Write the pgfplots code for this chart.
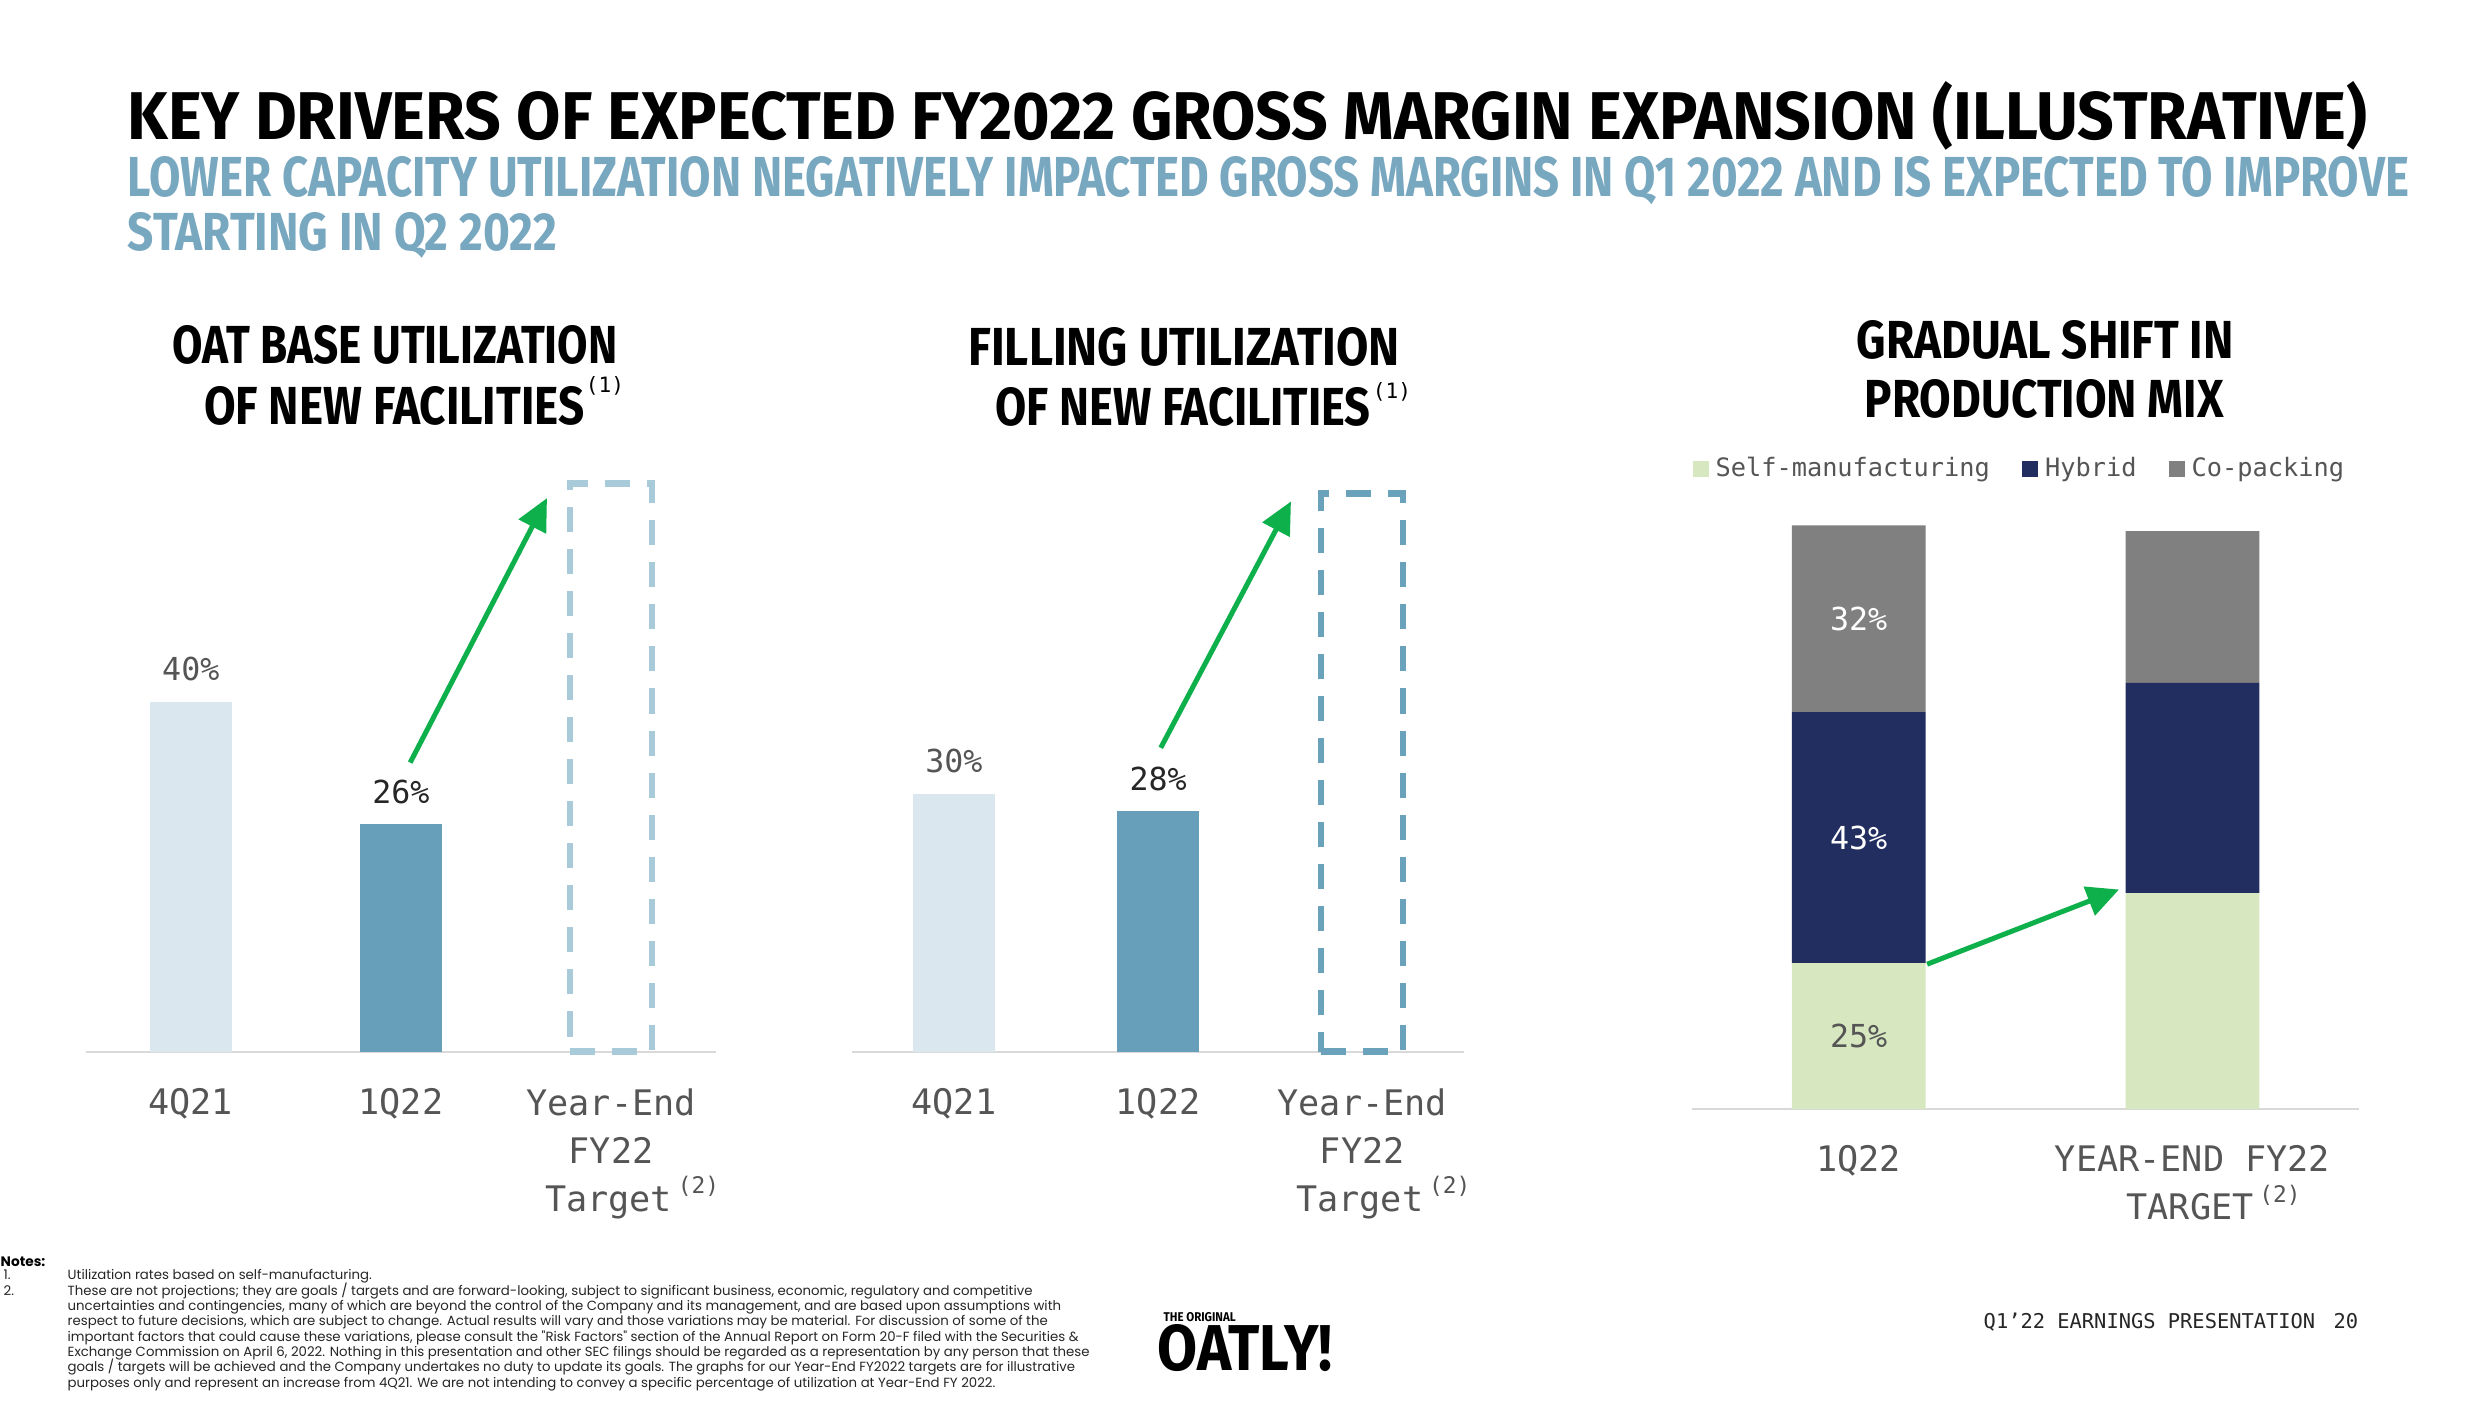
\documentclass[border=0pt]{standalone}
\usepackage{fontspec}
\usepackage{pgfplots}
\pgfplotsset{compat=1.18}
\usetikzlibrary{arrows.meta}
\setmainfont{Poppins}
\newfontfamily\heavy{Fira Sans}
\newfontfamily\mono{DejaVu Sans Mono}
\newfontfamily\notef{Poppins}
\definecolor{subblue}{HTML}{78A7C0}
\definecolor{lightbar}{HTML}{DAE7EE}
\definecolor{darkbar}{HTML}{679FBA}
\definecolor{dashone}{HTML}{A8CAD9}
\definecolor{dashtwo}{HTML}{6AA1BB}
\definecolor{navy}{HTML}{232E60}
\definecolor{cogray}{HTML}{808080}
\definecolor{lgreen}{HTML}{D7E8C1}
\definecolor{arrowgreen}{HTML}{0DB04B}
\definecolor{txtgray}{HTML}{555555}
\definecolor{txtdark}{HTML}{262626}
\definecolor{basegray}{HTML}{D9D9D9}
\newcommand\ttl[4]{\node[anchor=base west, inner sep=0pt] at (#1) {\resizebox{#2}{#3}{\heavy\bfseries #4}};}
\newcommand\supb[1]{\raisebox{0.5em}{\fontsize{6.5}{7}\selectfont(#1)}}
\tikzset{arr/.style={draw=arrowgreen, line width=0.05cm, -{Triangle[length=0.32cm,width=0.3cm]}}}
\pgfplotsset{
  slide/.style={
    anchor=south west, scale only axis, clip=false,
    axis x line=bottom, axis y line=none,
    x axis line style={-, draw=basegray, line width=0.02cm},
    major tick length=0pt, ymin=0,
    /pgf/number format/assume math mode=true,
    xticklabel style={font=\mono\fontsize{10}{13.66}\selectfont, text=txtgray, align=center, anchor=north, inner sep=0pt, yshift=-0.36cm},
    every node near coord/.append style={font=\mono\fontsize{9}{10}\selectfont, inner sep=0pt, yshift=0.2cm},
  },
}
\begin{document}
\begin{tikzpicture}[x=0.01cm,y=0.01cm]
\path[use as bounding box, fill=white] (0,0) rectangle (2492,1400);
% titles
\ttl{127,1260}{22.375cm}{0.58cm}{KEY DRIVERS OF EXPECTED FY2022 GROSS MARGIN EXPANSION (ILLUSTRATIVE)}
\node[anchor=base west, inner sep=0pt, text=subblue] at (127,1203) {\resizebox{22.8cm}{0.40cm}{\heavy\bfseries LOWER CAPACITY UTILIZATION NEGATIVELY IMPACTED GROSS MARGINS IN Q1 2022 AND IS EXPECTED TO IMPROVE}};
\node[anchor=base west, inner sep=0pt, text=subblue] at (127,1149) {\resizebox{4.29cm}{0.38cm}{\heavy\bfseries STARTING IN Q2 2022}};
% chart titles
\ttl{171.6,1036}{4.45cm}{0.38cm}{OAT BASE UTILIZATION}
\ttl{203.4,975.7}{3.80cm}{0.38cm}{OF NEW FACILITIES}
\node[font=\mono\fontsize{6}{7}\selectfont] at (605,1014) {(1)};
\ttl{967.7,1034.5}{4.31cm}{0.38cm}{FILLING UTILIZATION}
\ttl{994.7,974}{3.75cm}{0.38cm}{OF NEW FACILITIES}
\node[font=\mono\fontsize{6}{7}\selectfont] at (1392,1008) {(1)};
\ttl{1856,1041}{3.765cm}{0.38cm}{GRADUAL SHIFT IN}
\ttl{1864,982}{3.59cm}{0.38cm}{PRODUCTION MIX}

% chart 1
\begin{axis}[slide, at={(0.857cm,3.481cm)}, width=6.3cm, height=6.555cm,
  xmin=-0.5, xmax=2.5, ymax=75, xtick={0,1,2},
  xticklabels={4Q21,1Q22,{Year-End\\FY22\\\hspace*{1.2em}Target\,\supb{2}}}]
\addplot[ybar, bar shift=0pt, bar width=0.82cm, fill=lightbar, draw=none,
  nodes near coords={\pgfmathprintnumber{\pgfplotspointmeta}\%},
  every node near coord/.append style={text=txtgray}] coordinates {(0,40)};
\addplot[ybar, bar shift=0pt, bar width=0.82cm, fill=darkbar, draw=none,
  nodes near coords={\pgfmathprintnumber{\pgfplotspointmeta}\%},
  every node near coord/.append style={text=txtdark}] coordinates {(1,26)};
\addplot[ybar, bar shift=0pt, bar width=0.82cm, fill=none, draw=dashone,
  line width=0.065cm, dash pattern=on 0.25cm off 0.17cm] coordinates {(2,65)};
\draw[arr] (axis cs:1.044,33.06) -- (axis cs:1.695,63.3);
\end{axis}

% chart 2
\begin{axis}[slide, at={(8.514cm,3.481cm)}, width=6.12cm, height=6.435cm,
  xmin=-0.5, xmax=2.5, ymax=75, xtick={0,1,2},
  xticklabels={4Q21,1Q22,{Year-End\\FY22\\\hspace*{1.2em}Target\,\supb{2}}}]
\addplot[ybar, bar shift=0pt, bar width=0.82cm, fill=lightbar, draw=none,
  nodes near coords={\pgfmathprintnumber{\pgfplotspointmeta}\%},
  every node near coord/.append style={text=txtgray}] coordinates {(0,30)};
\addplot[ybar, bar shift=0pt, bar width=0.82cm, fill=darkbar, draw=none,
  nodes near coords={\pgfmathprintnumber{\pgfplotspointmeta}\%},
  every node near coord/.append style={text=txtdark}] coordinates {(1,28)};
\addplot[ybar, bar shift=0pt, bar width=0.82cm, fill=none, draw=dashtwo,
  line width=0.065cm, dash pattern=on 0.25cm off 0.17cm] coordinates {(2,65)};
\draw[arr] (axis cs:1.013,35.4) -- (axis cs:1.651,64.1);
\end{axis}

% chart 3
\begin{axis}[slide, at={(16.908cm,2.909cm)}, width=6.672cm, height=6.124cm,
  ybar stacked, bar width=1.335cm,
  xmin=-0.5, xmax=1.5, ymax=105, xtick={0,1},
  xticklabels={1Q22,{YEAR-END FY22\\\hspace*{1.2em}TARGET\,\supb{2}}},
  legend image code/.code={\fill[#1] (0cm,-0.08cm) rectangle (0.16cm,0.08cm);},
  legend style={at={(axis description cs:0,1.0436)}, anchor=west, legend columns=3,
    draw=none, fill=none, inner sep=0pt, font=\mono\fontsize{7.2}{8}\selectfont, text=txtgray,
    /tikz/every even column/.append style={column sep=0.25cm}},
]
\addplot[fill=lgreen, draw=none] coordinates {(0,25) (1,37)};
\addplot[fill=navy, draw=none] coordinates {(0,43) (1,36)};
\addplot[fill=cogray, draw=none] coordinates {(0,32) (1,26)};
\legend{Self-manufacturing,Hybrid,Co-packing}
\coordinate (l32) at (axis cs:0,84);
\coordinate (l43) at (axis cs:0,46.5);
\coordinate (l25) at (axis cs:0,12.5);
\coordinate (a3s) at (axis cs:0.205,24.8);
\coordinate (a3e) at (axis cs:0.78,37.6);
\end{axis}
\node[font=\mono\fontsize{9}{10}\selectfont, text=white] at (l32) {32\%};
\node[font=\mono\fontsize{9}{10}\selectfont, text=white] at (l43) {43\%};
\node[font=\mono\fontsize{9}{10}\selectfont, text=txtgray] at (l25) {25\%};
\draw[arr] (a3s) -- (a3e);

% notes
\node[anchor=base west, inner sep=0pt, font=\notef\bfseries\fontsize{3.9}{4.4}\selectfont] at (0,133.5) {Notes:};
\begin{scope}[every node/.style={anchor=base west, inner sep=0pt, font=\notef\fontsize{3.78}{4.4}\selectfont, text=black!85}]
\node at (3,121) {1.};
\node at (67,121) {Utilization rates based on self-manufacturing.};
\node at (3,105) {2.};
\node at (67,105) {These are not projections; they are goals / targets and are forward-looking, subject to significant business, economic, regulatory and competitive};
\node at (67,89.6) {uncertainties and contingencies, many of which are beyond the control of the Company and its management, and are based upon assumptions with};
\node at (67,74.3) {respect to future decisions, which are subject to change. Actual results will vary and those variations may be material. For discussion of some of the};
\node at (67,58.9) {important factors that could cause these variations, please consult the "Risk Factors" section of the Annual Report on Form 20-F filed with the Securities \&};
\node at (67,43.6) {Exchange Commission on April 6, 2022. Nothing in this presentation and other SEC filings should be regarded as a representation by any person that these};
\node at (67,28.2) {goals / targets will be achieved and the Company undertakes no duty to update its goals. The graphs for our Year-End FY2022 targets are for illustrative};
\node at (67,12.9) {purposes only and represent an increase from 4Q21. We are not intending to convey a specific percentage of utilization at Year-End FY 2022.};
\end{scope}
% logo
\node[anchor=base west, inner sep=0pt] at (1163,79) {\resizebox{0.72cm}{0.09cm}{\heavy\bfseries THE ORIGINAL}};
\node[anchor=base west, inner sep=0pt] at (1157,30) {\resizebox{1.75cm}{0.46cm}{\heavy\bfseries OATLY!}};
% footer
\node[anchor=base west, inner sep=0pt, font=\mono\fontsize{5.8}{7}\selectfont, text=black!85] at (1983,72) {Q1’22 EARNINGS PRESENTATION\hspace{0.9em}20};
\end{tikzpicture}
\end{document}
